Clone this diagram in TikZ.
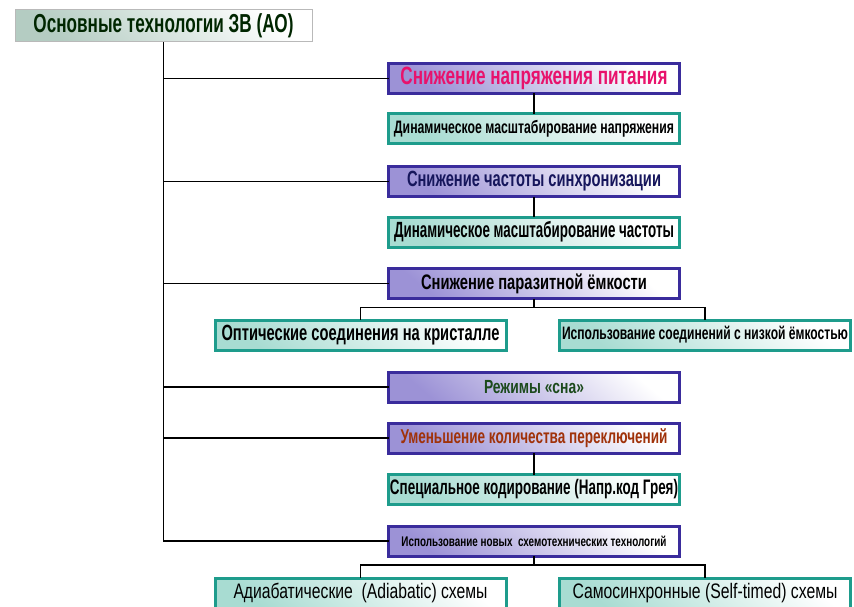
\documentclass[tikz,border=0pt]{standalone}
\usepackage{fontspec}
\setmainfont{Liberation Sans}
\usepackage{graphicx}
\definecolor{navyb}{HTML}{3A2C9C}
\definecolor{lavb}{HTML}{9C92D6}
\definecolor{tealb}{HTML}{1E9C8C}
\definecolor{teall}{HTML}{A8DCD2}
\definecolor{magt}{HTML}{E8126C}
\definecolor{navyt}{HTML}{16165C}
\definecolor{greent}{HTML}{1C4A1C}
\definecolor{brownt}{HTML}{A0320A}
\definecolor{titl}{HTML}{B4CCC2}
\newcommand{\fitw}[2]{\resizebox{#1pt}{\height}{#2}}
\tikzset{
  base/.style={rectangle, inner sep=0pt, outer sep=0pt, line width=3pt, align=center},
  bluebox/.style={base, draw=navyb, shading=axis, top color=white, bottom color=lavb, shading angle=-40, minimum width=291pt, minimum height=30pt},
  tealbox/.style={base, draw=tealb, shading=axis, top color=white, bottom color=teall, shading angle=-40, minimum width=291pt, minimum height=30pt},
  titlebox/.style={rectangle, inner sep=0pt, draw=gray!55, line width=1pt, shading=axis, top color=white, bottom color=titl, shading angle=-40, minimum width=297pt, minimum height=32pt},
  conn/.style={draw=black, line width=1.1pt}
}
\begin{document}
\begin{tikzpicture}[x=1pt,y=-1pt]
\useasboundingbox (0,0) rectangle (854,607);
\clip (0,0) rectangle (854,607);
\fill[white] (0,0) rectangle (854,607);

\node[titlebox, text=black!85!green] (top) at (163.5,26) {\fontsize{26}{28}\selectfont\bfseries\fitw{260}{Основные технологии ЗВ (АО)}};

\node[bluebox, text=magt] (b1) at (534,78.5) {\fontsize{25}{27}\selectfont\bfseries\fitw{267}{Снижение напряжения питания}};
\node[tealbox] (t1) at (534,129) {\fontsize{18}{20}\selectfont\bfseries\fitw{280}{Динамическое масштабирование напряжения}};
\node[bluebox, text=navyt] (b2) at (534,181.5) {\fontsize{22}{24}\selectfont\bfseries\fitw{254}{Снижение частоты синхронизации}};
\node[tealbox] (t2) at (534,232) {\fontsize{22}{24}\selectfont\bfseries\fitw{280}{Динамическое масштабирование частоты}};
\node[bluebox] (b3) at (534,283.5) {\fontsize{21}{23}\selectfont\bfseries\fitw{226}{Снижение паразитной ёмкости}};
\node[tealbox] (t3) at (360.5,335) {\fontsize{22}{24}\selectfont\bfseries\fitw{278}{Оптические соединения на кристалле}};
\node[tealbox] (t4) at (705,335) {\fontsize{18}{20}\selectfont\bfseries\fitw{286}{Использование соединений с низкой ёмкостью}};
\node[bluebox, text=greent] (b4) at (534,387) {\fontsize{19}{21}\selectfont\bfseries\fitw{100}{Режимы «сна»}};
\node[bluebox, text=brownt] (b5) at (534,438) {\fontsize{20}{22}\selectfont\bfseries\fitw{267}{Уменьшение количества переключений}};
\node[tealbox] (t5) at (534,489.5) {\fontsize{21}{23}\selectfont\bfseries\fitw{288}{Специальное кодирование (Напр.код Грея)}};
\node[bluebox] (b6) at (534,541) {\fontsize{14}{16}\selectfont\bfseries\fitw{265}{Использование новых\ \ схемотехнических технологий}};
\node[tealbox] (t6) at (360.5,593) {\fontsize{21}{23}\selectfont\fitw{254}{Адиабатические\ \ (Adiabatic) схемы}};
\node[tealbox] (t7) at (705,593) {\fontsize{21}{23}\selectfont\fitw{265}{Самосинхронные (Self-timed) схемы}};

% spine and branches
\draw[conn] (top.south) |- (b6.west);
\foreach \b in {b1,b2,b3,b4,b5}
  \draw[conn] (top.south |- \b.west) -- (\b.west);

% children
\draw[conn] (b1.south) -- (t1.north);
\draw[conn] (b2.south) -- (t2.north);
\draw[conn] (b5.south) -- (t5.north);
\draw[conn] (b3.south) -- ++(0,9) -| (t3.north);
\draw[conn] (b3.south) ++(0,9) -| (t4.north);
\draw[conn] (b6.south) -- ++(0,9) -| (t6.north);
\draw[conn] (b6.south) ++(0,9) -| (t7.north);
\end{tikzpicture}
\end{document}
